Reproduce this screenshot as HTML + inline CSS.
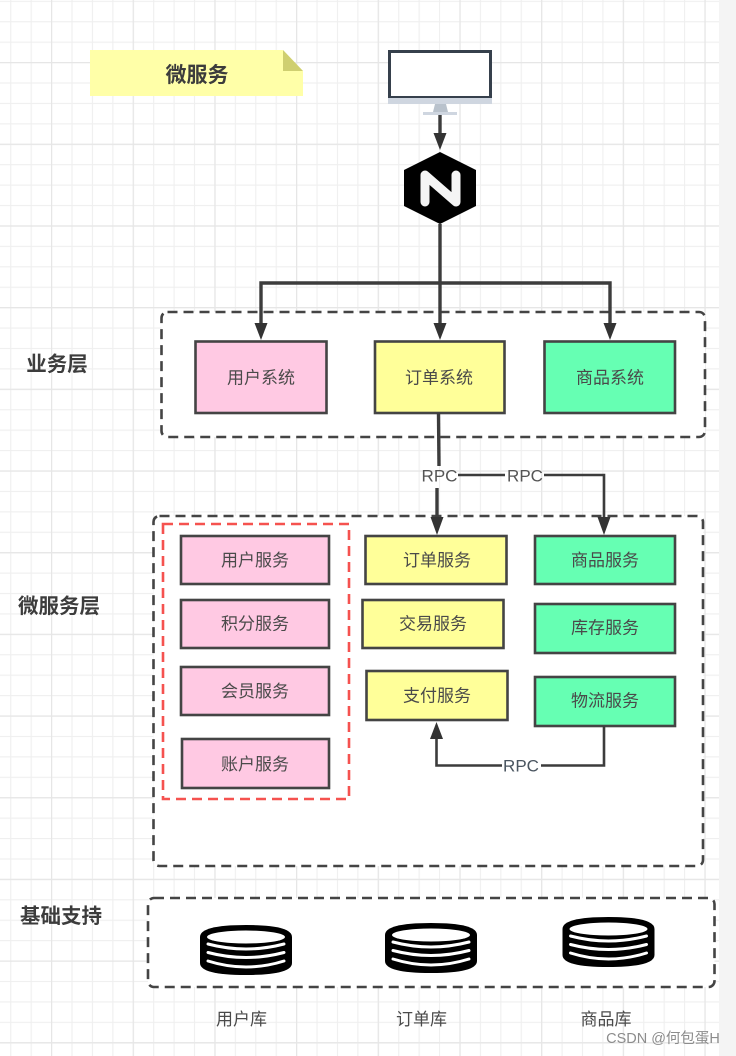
<!DOCTYPE html>
<html><head><meta charset="utf-8"><style>
html,body{margin:0;padding:0;background:#fff;width:736px;height:1056px;overflow:hidden}
svg{display:block;filter:blur(.35px)}
text{font-family:"Liberation Sans","Noto Sans CJK SC",sans-serif;fill:#444;text-anchor:middle}
.h{font-size:20.5px;font-weight:bold;fill:#3c3c3c}
.b{font-size:17px;fill:#4a4a4a}
.r{font-size:17px;fill:#555}
.box{stroke:#444;stroke-width:2.6}
.p{fill:#ffc9e3}.y{fill:#ffff99}.g{fill:#66ffb3}
.dash{fill:#fff;stroke:#444;stroke-width:2.6;stroke-dasharray:10 6}
.l{fill:none;stroke:#3c3c3c;stroke-width:2.6}
.t{fill:none;stroke:#3c3c3c;stroke-width:3.4}
.a{fill:#333}
</style></head><body>
<svg width="736" height="1056" viewBox="0 0 736 1056" xmlns="http://www.w3.org/2000/svg">
<defs>
<pattern id="m" x="10.2" y="21.2" width="20.42" height="20.42" patternUnits="userSpaceOnUse"><path d="M0 0V20.42M0 0H20.42" stroke="#efefef" stroke-width="2.2" fill="none"/></pattern>
<pattern id="M" x="51" y="62" width="81.68" height="81.68" patternUnits="userSpaceOnUse"><path d="M0 0V81.68M0 0H81.68" stroke="#e6e6e6" stroke-width="2.4" fill="none"/></pattern>
<g id="cyl">
<path d="M0 12Q0 0 46 0Q92 0 92 12V38Q92 50 46 50Q0 50 0 38Z" fill="#000"/>
<ellipse cx="46" cy="12" rx="39" ry="6.500" fill="#fff"/>
<path d="M8 19Q46 29 84 19M8 27.500Q46 37.500 84 27.500M8 36Q46 48 84 36" fill="none" stroke="#fff" stroke-width="3" stroke-linecap="round"/>
</g>
</defs>
<rect width="736" height="1056" fill="#fff"/>
<rect width="719" height="1056" fill="url(#m)"/>
<rect width="719" height="1056" fill="url(#M)"/>
<rect x="719" y="0" width="17" height="1056" fill="#f4f4f4"/>

<!-- note -->
<path d="M90 50H283L303 71V96H90Z" fill="#ffffa8"/>
<path d="M283 50L303 71H283Z" fill="#cfcf70"/>
<text x="197" y="82" class="h" style="font-size:21px">微服务</text>

<!-- monitor -->
<rect x="389.500" y="51.500" width="101" height="46" fill="#fff" stroke="#36404c" stroke-width="3"/>
<rect x="388" y="98" width="104" height="6" fill="#cfd6e0"/>
<path d="M435 104H446L448 112H433Z" fill="#b9c2cc"/>
<rect x="423" y="112" width="34" height="3" fill="#cfd6e0"/>

<!-- nginx -->
<path d="M440 152L476 170V206L440 224L404 206V170Z" fill="#000"/>
<polyline points="425,202 425,175 456,202 456,175" fill="none" stroke="#f4f4f4" stroke-width="9" stroke-linejoin="round" stroke-linecap="round"/>
<path class="t" d="M440 115V136"/>
<path class="a" d="M433.500 133H446.500L440 150Z"/>

<!-- containers -->
<rect class="dash" x="161.500" y="312" width="543.500" height="125" rx="6"/>
<rect class="dash" x="153.500" y="516" width="549.500" height="350" rx="6"/>
<rect class="dash" x="148" y="898" width="566.500" height="89" rx="6"/>
<rect x="163" y="524" width="186" height="275" fill="none" stroke="#f5524f" stroke-width="2.600" stroke-dasharray="10 6"/>

<!-- top connectors -->
<path class="t" d="M440 224V325"/>
<path class="t" d="M261 325V283H610V325"/>
<path class="a" d="M254.500 323H267.500L261 340Z"/>
<path class="a" d="M433.500 323H446.500L440 340Z"/>
<path class="a" d="M603.500 323H616.500L610 340Z"/>

<!-- top boxes -->
<rect class="box p" x="195.500" y="341.500" width="131" height="71.500"/>
<rect class="box y" x="375" y="341.500" width="129.500" height="71.500"/>
<rect class="box g" x="544.500" y="341.500" width="130.500" height="71.500"/>
<text x="261" y="383.500" class="b">用户系统</text>
<text x="439" y="383.500" class="b">订单系统</text>
<text x="610" y="383.500" class="b">商品系统</text>

<!-- RPC connectors -->
<path class="t" d="M438.500 413L439 466"/>
<path class="t" d="M437 488V520"/>
<path class="l" d="M458 475H505M544 475H604V520"/>
<path class="a" d="M430.500 517H443.500L437 535Z"/>
<path class="a" d="M597.500 517H610.500L604 535Z"/>
<text x="439.500" y="481.500" class="r">RPC</text>
<text x="525" y="481.500" class="r">RPC</text>

<!-- pink -->
<rect class="box p" x="181" y="536" width="148" height="48"/>
<rect class="box p" x="181" y="600" width="148" height="48"/>
<rect class="box p" x="181" y="667" width="148" height="48"/>
<rect class="box p" x="182" y="739" width="147" height="49"/>
<text x="255" y="566" class="b">用户服务</text>
<text x="255" y="629.500" class="b">积分服务</text>
<text x="255" y="697" class="b">会员服务</text>
<text x="255" y="770" class="b">账户服务</text>

<!-- yellow -->
<rect class="box y" x="365.500" y="536" width="141" height="48"/>
<rect class="box y" x="362.500" y="600" width="141" height="48"/>
<rect class="box y" x="366.500" y="671" width="141" height="49"/>
<text x="437" y="566" class="b">订单服务</text>
<text x="433" y="629.500" class="b">交易服务</text>
<text x="437" y="701.500" class="b">支付服务</text>

<!-- green -->
<rect class="box g" x="535" y="536" width="140" height="48"/>
<rect class="box g" x="535" y="604" width="140" height="49"/>
<rect class="box g" x="535" y="677" width="140" height="49"/>
<text x="605" y="566" class="b">商品服务</text>
<text x="605" y="633.500" class="b">库存服务</text>
<text x="605" y="706.500" class="b">物流服务</text>

<!-- bottom RPC -->
<path class="l" d="M604 726V765.500H541M502 765.500H436.500V735"/>
<path class="a" d="M436.500 722L443 739H430Z"/>
<text x="521" y="771.500" class="r" style="fill:#4a5560">RPC</text>

<!-- layer labels -->
<text x="57" y="371" class="h">业务层</text>
<text x="59" y="613" class="h">微服务层</text>
<text x="61" y="923" class="h">基础支持</text>

<!-- databases -->
<use href="#cyl" x="200" y="925"/>
<use href="#cyl" x="385" y="923"/>
<use href="#cyl" x="562.500" y="917"/>
<text x="241.500" y="1025" class="b">用户库</text>
<text x="421.500" y="1025" class="b">订单库</text>
<text x="606" y="1025" class="b">商品库</text>

<text x="663" y="1043" style="font-size:14.500px;fill:#8c8c8c">CSDN @何包蛋H</text>
</svg>
</body></html>
